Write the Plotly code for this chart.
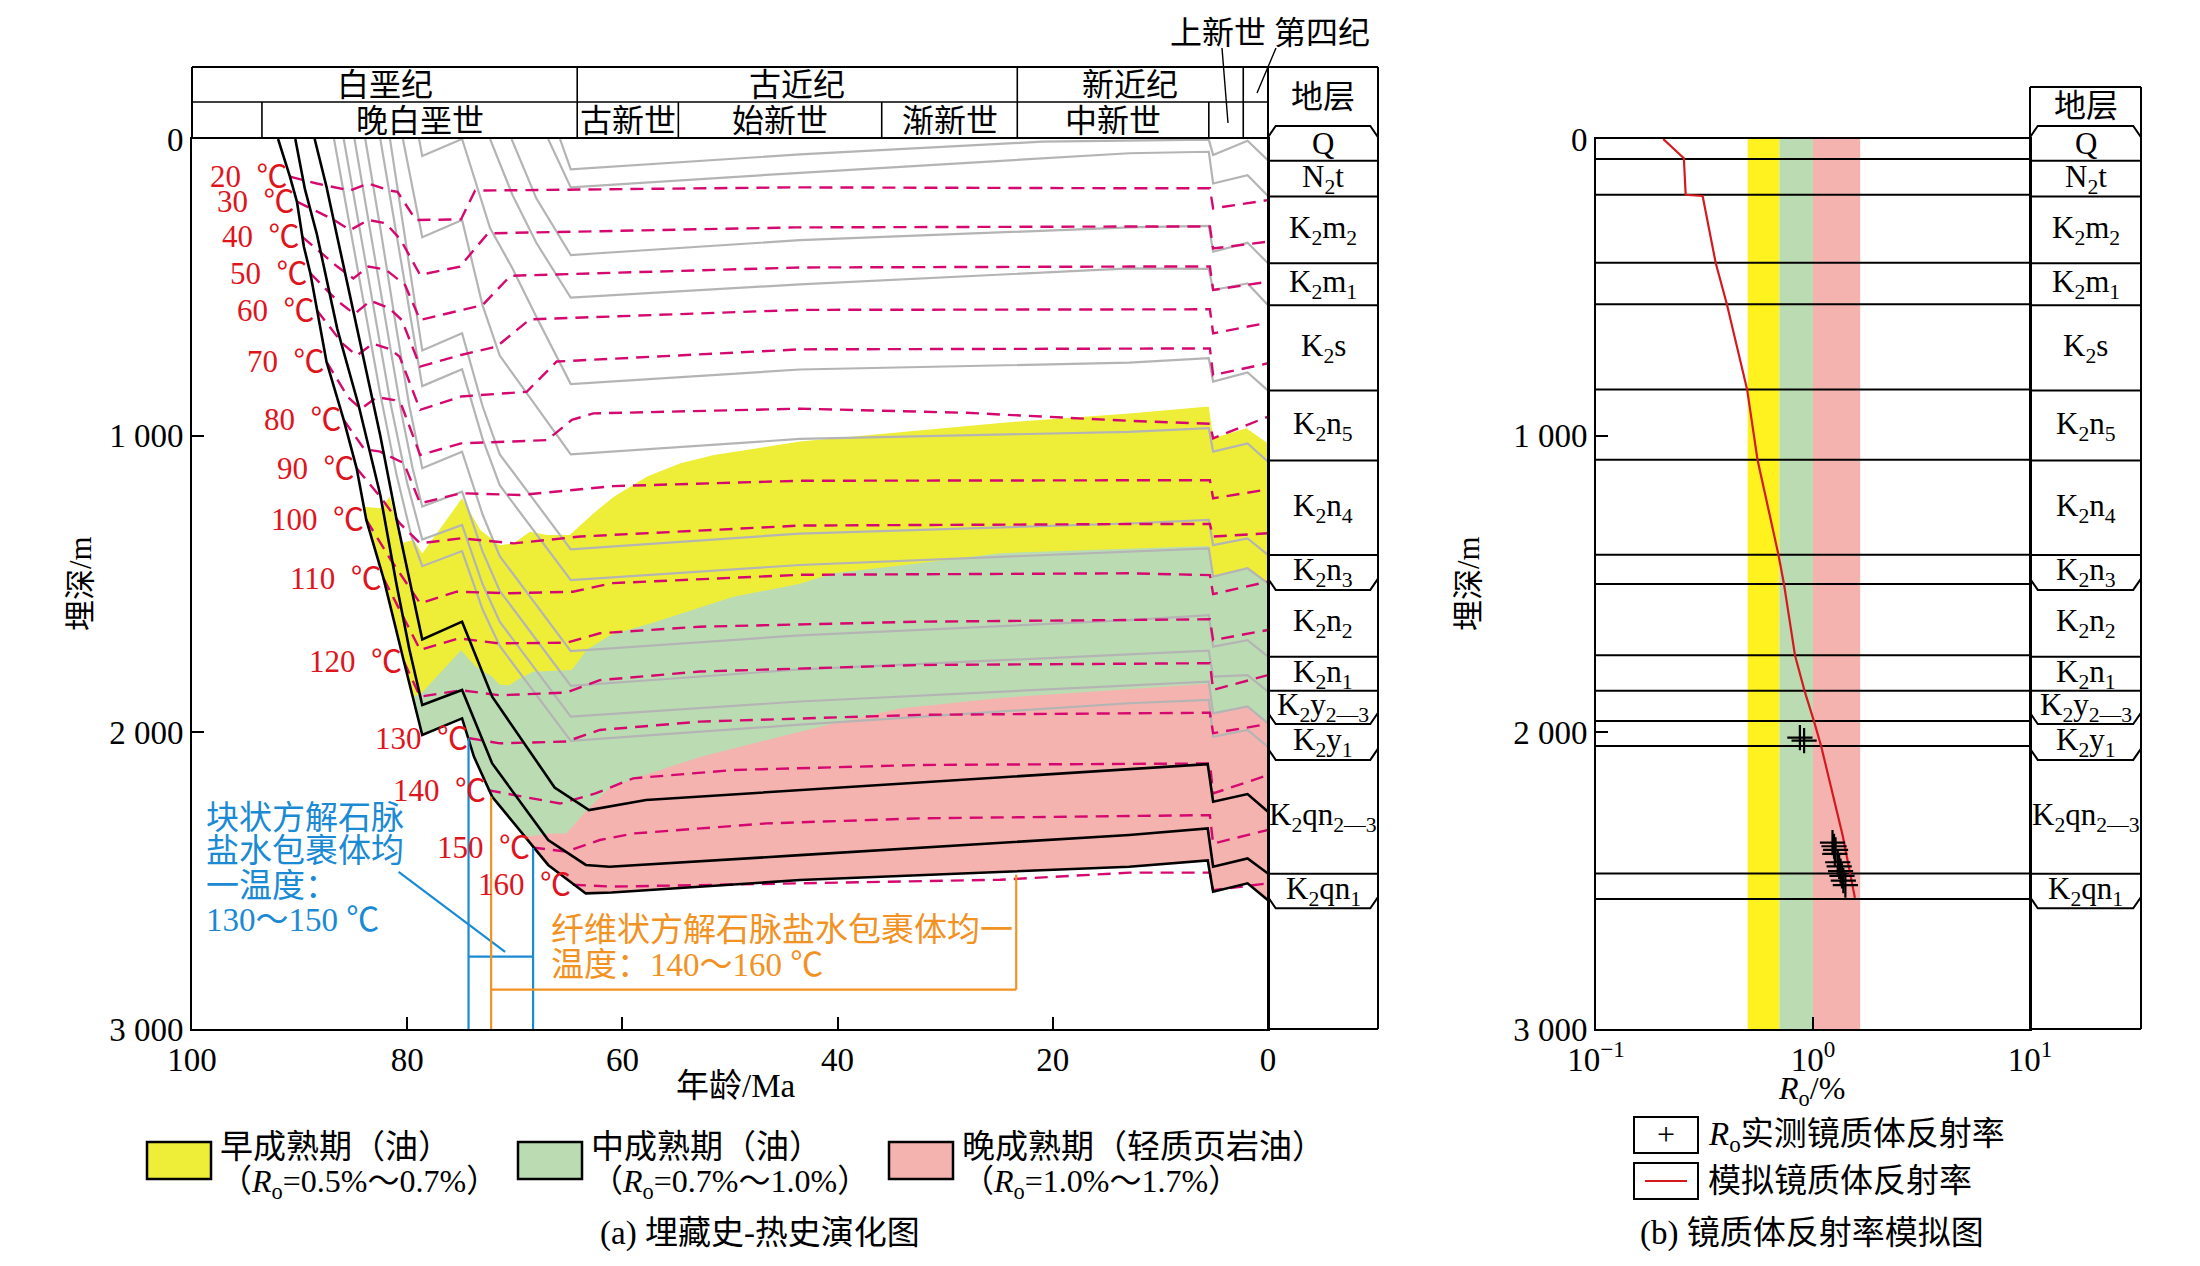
import plotly.graph_objects as go

# the page body keeps its default 8 px margin, so the figure is drawn 8 px in from the corner
W, H = 2200, 1266
PAGE_MARGIN = 8
FIG_W, FIG_H = W - PAGE_MARGIN, H - PAGE_MARGIN
FONT = "Liberation Serif, Noto Sans CJK SC, serif"

# frame of the two panels, in pixels of the 2200 x 1266 screenshot
A_LEFT, A_RIGHT, A_COL = 192, 1268, 1378
B_LEFT, B_RIGHT, B_COL = 1596, 2030, 2141
TOP, BOTTOM = 139, 1029
HEAD_TOP, HEAD_MID, B_HEAD_TOP = 67, 102, 87
DEPTH_MAX = 3000

GRAY = "#B4B4B4"
ISO_COLOR = "#D5086F"
LABEL_RED = "#E0141C"
BLUE = "#1A8AD4"
ORANGE = "#F29223"
FILL_A = ["#EEEE38", "#BBDCB2", "#F4B3AF"]
FILL_B = ["#FFF21E", "#BBDCB2", "#F4B3AF"]

# ---------------- geological time scale (Ma) ----------------
PERIOD_NAMES = ["白垩纪", "古近纪", "新近纪"]
PERIOD_START = [100, 64.2, 23.3]
PERIOD_END = [64.2, 23.3, 2.3]
EPOCH_NAMES = ["晚白垩世", "古新世", "始新世", "渐新世", "中新世"]
EPOCH_START = [93.5, 64.2, 54.8, 35.9, 23.3]
EPOCH_END = [64.2, 54.8, 35.9, 23.3, 5.5]
FULL_HEIGHT_BOUNDS = [64.2, 23.3, 2.3]
EPOCH_ONLY_BOUNDS = [93.5, 54.8, 35.9, 5.5]

# ---------------- burial history: formation tops (age Ma, depth m) ----------------
GRAY_AGES = [
    [65.8, 64.8, 43.5, 21.0, 5.5, 5.1, 1.9, 0],
    [66.9, 64.8, 43.5, 12.9, 5.5, 5.1, 1.9, 0],
    [70.3, 68.0, 64.8, 43.5, 12.9, 5.5, 5.1, 1.9, 0],
    [72.3, 70.2, 68.0, 64.8, 43.5, 12.9, 5.5, 5.1, 1.9, 0],
    [78.9, 78.6, 74.9, 72.3, 70.2, 68.0, 64.8, 43.5, 12.9, 5.5, 5.1, 1.9, 0],
    [80.4, 79.5, 78.6, 74.9, 73.0, 71.4, 68.0, 64.8, 43.5, 12.9, 5.5, 5.1, 1.9, 0],
    [81.6, 80.5, 79.5, 78.6, 74.9, 73.0, 71.4, 64.8, 43.5, 12.9, 5.5, 5.1, 1.9, 0],
    [82.5, 81.3, 80.0, 78.6, 74.9, 73.0, 71.4, 64.8, 43.5, 12.9, 5.5, 5.1, 1.9, 0],
    [83.9, 82.5, 81.0, 79.8, 78.6, 74.9, 73.0, 71.4, 64.8, 43.5, 12.9, 5.5, 5.1, 1.9, 0],
    [84.9, 83.5, 82.0, 80.5, 79.5, 78.6, 74.9, 73.0, 71.4, 64.8, 43.5, 12.9, 5.5, 5.1, 1.9, 0],
    [85.9, 84.5, 83.0, 81.5, 80.0, 78.6, 74.9, 73.0, 71.4, 64.8, 43.5, 12.9, 5.5, 5.1, 1.9, 0],
    [86.8, 85.5, 84.0, 82.5, 81.0, 79.6, 78.6, 74.9, 73.0, 71.4, 64.8, 43.5, 12.9, 5.5, 5.1, 1.9, 0],
]
GRAY_DEPTHS = [
    [0, 102, 52, 9, 2, 54, 6, 72],
    [0, 163, 114, 48, 43, 150, 122, 192],
    [0, 200, 391, 341, 298, 293, 380, 350, 419],
    [0, 190, 350, 535, 490, 436, 438, 509, 487, 560],
    [0, 57, 0, 300, 437, 599, 826, 777, 754, 739, 818, 787, 848],
    [0, 170, 331, 273, 560, 730, 900, 1063, 1011, 987, 975, 1054, 1026, 1088],
    [0, 270, 500, 713, 655, 900, 1063, 1383, 1330, 1296, 1284, 1369, 1346, 1402],
    [0, 260, 540, 833, 776, 1010, 1167, 1487, 1436, 1391, 1380, 1475, 1447, 1498],
    [0, 300, 640, 900, 1110, 1054, 1265, 1406, 1726, 1673, 1622, 1605, 1711, 1689, 1745],
    [0, 300, 620, 930, 1110, 1239, 1189, 1390, 1523, 1843, 1788, 1739, 1725, 1812, 1807, 1863],
    [0, 290, 600, 900, 1160, 1350, 1301, 1500, 1627, 1947, 1896, 1840, 1829, 1936, 1913, 1970],
    [0, 260, 560, 860, 1130, 1340, 1440, 1389, 1585, 1709, 2029, 1974, 1902, 1891, 2015, 1992, 2049],
]
# Qingshankou formation horizons (black); last one is the deepest
BLACK_AGES = [
    [88.6, 87.5, 86.5, 85.5, 84.2, 82.5, 81.0, 79.6, 78.6, 74.9, 72.1, 66.3, 63.1, 57.8, 32.4, 12.9, 5.6, 5.1, 1.9, 0],
    [90.4, 89.5, 88.4, 86.5, 84.5, 82.5, 81.0, 79.8, 78.6, 74.9, 72.1, 66.9, 63.4, 61.2, 43.5, 12.9, 5.6, 5.1, 1.9, 0],
    [92.0, 90.9, 90.25, 89.6, 89.0, 88.4, 87.5, 85.9, 84.7, 83.8, 82.2, 80.3, 78.6, 74.9, 73.8, 72.1, 69.0,
     66.9, 63.4, 61.0, 43.5, 12.9, 5.6, 5.1, 1.9, 0],
]
BLACK_DEPTHS = [
    [0, 161, 330, 500, 723, 1000, 1280, 1520, 1687, 1627, 1880, 2186, 2262, 2228, 2169, 2125, 2107, 2234, 2208, 2268],
    [0, 170, 320, 640, 900, 1200, 1500, 1720, 1908, 1857, 2105, 2363, 2447, 2453, 2414, 2346, 2324, 2453, 2425, 2476],
    [0, 127, 211, 363, 453, 577, 751, 947, 1110, 1284, 1481, 1762, 2009, 1953, 2082, 2217, 2354,
     2447, 2543, 2540, 2498, 2453, 2432, 2537, 2509, 2566],
]

# ---------------- isotherms ----------------
ISO_TEMPS = [20, 30, 40, 50, 60, 70, 80, 90, 100, 110, 120, 130, 140, 150, 160]
ISO_AGES = [
    [90.9, 88.4, 85.3, 83.6, 81.6, 80.9, 79.2, 75.0, 73.7, 44.0, 12.9, 5.4, 5.1, 0],
    [90.25, 86.8, 85.3, 83.6, 82.0, 80.6, 78.8, 75.1, 72.5, 44.0, 12.9, 5.4, 5.1, 0],
    [89.75, 86.5, 85.0, 83.6, 82.0, 80.2, 78.8, 75.0, 73.0, 70.4, 43.5, 12.9, 5.4, 5.1, 0],
    [89.0, 86.5, 84.9, 83.4, 81.7, 80.5, 78.8, 75.0, 71.7, 68.6, 43.5, 12.9, 5.4, 5.1, 0],
    [88.4, 86.0, 84.7, 83.2, 81.5, 80.7, 78.8, 75.0, 68.9, 66.1, 43.5, 12.9, 5.4, 5.1, 0],
    [87.5, 85.5, 84.3, 82.8, 81.2, 80.5, 78.8, 75.0, 67.0, 64.7, 62.7, 43.5, 28.0, 12.9, 5.4, 5.1, 0],
    [85.9, 84.0, 82.5, 80.3, 78.8, 75.0, 69.5, 60.8, 43.5, 12.9, 5.4, 5.1, 0],
    [84.7, 82.5, 80.7, 78.8, 75.0, 70.1, 63.9, 43.5, 12.9, 5.4, 5.1, 0],
    [83.8, 81.5, 78.8, 75.4, 70.5, 64.6, 60.9, 43.5, 12.9, 5.4, 5.1, 0],
    [82.2, 80.5, 78.8, 75.2, 71.5, 65.2, 62.1, 52.8, 32.4, 5.4, 5.1, 0],
    [80.3, 78.8, 75.0, 71.4, 65.2, 62.1, 52.8, 32.4, 5.4, 5.1, 0],
    [74.2, 71.4, 65.2, 62.1, 52.8, 32.4, 5.4, 5.1, 0],
    [72.5, 65.8, 62.5, 59.0, 49.7, 32.4, 5.4, 5.1, 0],
    [68.4, 65.2, 62.1, 59.0, 46.6, 32.4, 5.4, 5.1, 0],
    [64.6, 60.9, 24.9, 12.9, 5.4, 5.1, 0],
]
ISO_DEPTHS = [
    [127, 150, 174, 150, 174, 178, 273, 271, 174, 163, 166, 166, 234, 206],
    [211, 273, 307, 273, 284, 340, 458, 430, 318, 298, 295, 295, 369, 346],
    [330, 430, 470, 430, 440, 492, 610, 576, 560, 461, 433, 430, 430, 509, 481],
    [453, 545, 590, 545, 570, 610, 767, 728, 700, 608, 576, 574, 574, 655, 619],
    [577, 690, 730, 690, 710, 734, 913, 868, 852, 750, 709, 706, 706, 796, 756],
    [751, 870, 910, 870, 880, 900, 1065, 1026, 1015, 947, 925, 909, 923, 950, 960, 1009, 936],
    [947, 1045, 1054, 1093, 1228, 1194, 1200, 1170, 1152, 1150, 1150, 1211, 1181],
    [1110, 1206, 1295, 1363, 1346, 1363, 1340, 1303, 1298, 1298, 1340, 1329],
    [1284, 1420, 1565, 1526, 1531, 1526, 1497, 1469, 1464, 1470, 1534, 1492],
    [1481, 1600, 1722, 1683, 1700, 1698, 1666, 1644, 1627, 1619, 1689, 1655],
    [1762, 1880, 1858, 1875, 1866, 1824, 1795, 1773, 1767, 1857, 1807],
    [2020, 2037, 2031, 1992, 1964, 1941, 1934, 2003, 1972],
    [2195, 2240, 2206, 2155, 2127, 2110, 2105, 2206, 2144],
    [2388, 2402, 2363, 2341, 2307, 2290, 2279, 2375, 2329],
    [2514, 2520, 2497, 2473, 2473, 2532, 2509],
]

# ---------------- maturity windows: upper boundaries (lower one is the deepest horizon) ----------------
EARLY_TOP_AGE = [84.0, 82.5, 81.6, 80.6, 79.4, 78.6, 74.9, 73.2, 71.4, 70.1, 68.6, 67.0, 64.9, 62.7, 60.8,
                 57.7, 54.6, 51.5, 43.5, 24.9, 12.9, 5.5, 5.1, 2.0, 0]
EARLY_TOP_DEPTH = [1240, 1245, 1206, 1363, 1352, 1397, 1211, 1318, 1369, 1363, 1324, 1335, 1335, 1262, 1206,
                   1138, 1093, 1065, 1020, 957, 925, 902, 1009, 975, 1026]
MID_TOP_AGE = [79.5, 78.7, 75.0, 73.6, 72.1, 71.4, 70.5, 69.6, 68.3, 64.7, 63.3, 61.1, 57.4, 49.7, 43.5, 40.4,
               34.2, 24.9, 5.5, 5.1, 1.9, 0]
MID_TOP_DEPTH = [1880, 1869, 1723, 1779, 1813, 1840, 1841, 1819, 1796, 1790, 1722, 1672, 1633, 1543, 1499, 1464,
                 1438, 1396, 1372, 1475, 1447, 1498]
LATE_TOP_AGE = [69.0, 66.7, 65.2, 63.3, 61.1, 58.4, 52.8, 46.6, 40.4, 34.2, 24.9, 5.5, 5.1, 1.9, 0]
LATE_TOP_DEPTH = [2352, 2341, 2341, 2262, 2184, 2150, 2083, 2027, 1970, 1920, 1884, 1836, 1936, 1913, 1970]
ZONE_NAMES = ["早成熟期（油）", "中成熟期（油）", "晚成熟期（轻质页岩油）"]
ZONE_RO = ["（<i>R</i><sub>o</sub>=0.5%～0.7%）", "（<i>R</i><sub>o</sub>=0.7%～1.0%）",
           "（<i>R</i><sub>o</sub>=1.0%～1.7%）"]

# ---------------- fluid inclusion temperature markers ----------------
BLOCKY_AGES = [74.3, 68.3]
BLOCKY_TOPS = [2020, 2390]
BLOCKY_BRACKET = 2756
BLOCKY_TEXT = ["块状方解石脉", "盐水包裹体均", "一温度：", "130～150 ℃"]
BLOCKY_TEXT_DEPTH = [2288, 2400, 2518, 2633]
FIBROUS_AGES = [72.2, 23.4]
FIBROUS_TOPS = [2217, 2480]
FIBROUS_BRACKET = 2867
FIBROUS_TEXT = ["纤维状方解石脉盐水包裹体均一", "温度：140～160 ℃"]
FIBROUS_TEXT_DEPTH = [2665, 2783]

# ---------------- stratigraphic column ----------------
STRATA_LABELS = ["Q", "N<sub>2</sub>t", "K<sub>2</sub>m<sub>2</sub>", "K<sub>2</sub>m<sub>1</sub>",
                 "K<sub>2</sub>s", "K<sub>2</sub>n<sub>5</sub>", "K<sub>2</sub>n<sub>4</sub>",
                 "K<sub>2</sub>n<sub>3</sub>", "K<sub>2</sub>n<sub>2</sub>", "K<sub>2</sub>n<sub>1</sub>",
                 "K<sub>2</sub>y<sub>2—3</sub>", "K<sub>2</sub>y<sub>1</sub>",
                 "K<sub>2</sub>qn<sub>2—3</sub>", "K<sub>2</sub>qn<sub>1</sub>"]
STRATA_BOUNDS = [-44, 73, 194, 419, 560, 848, 1084, 1402, 1520, 1745, 1860, 1972, 2093, 2477, 2593]
BOUND_STYLE = ["up", "", "", "", "", "", "", "", "down", "", "", "down", "down", "", "down"]

# ---------------- vitrinite reflectance (panel b) ----------------
FORMATION_LINES = [67, 188, 417, 557, 844, 1081, 1401, 1500, 1740, 1860, 1962, 2046, 2476, 2562]
RO_BAND_LOW = [0.5, 0.7, 1.0]
RO_BAND_HIGH = [0.7, 1.0, 1.65]
RO_MODEL_DEPTH = [0, 65, 188, 192, 417, 557, 844, 1081, 1399, 1500, 1740, 1861, 1962, 2046, 2348, 2558]
RO_MODEL_VALUE = [0.204, 0.254, 0.259, 0.31, 0.356, 0.401, 0.497, 0.555, 0.692, 0.735, 0.826, 0.915, 1.01,
                  1.09, 1.37, 1.56]
RO_MEAS_DEPTH = [2018, 2028, 2372, 2384, 2396, 2410, 2438, 2452, 2468, 2484, 2500, 2515]
RO_MEAS_VALUE = [0.87, 0.91, 1.23, 1.25, 1.27, 1.26, 1.30, 1.32, 1.34, 1.36, 1.38, 1.41]


def fx(px):
    return (px - PAGE_MARGIN) / FIG_W


def fy(py):
    return 1 - (py - PAGE_MARGIN) / FIG_H


shapes = []
annotations = []


def line_px(x0, y0, x1, y1, width=2, color="black"):
    shapes.append(dict(type="line", xref="paper", yref="paper", x0=fx(x0), y0=fy(y0), x1=fx(x1), y1=fy(y1),
                       line=dict(color=color, width=width)))


def text(t, x, y, size=30, color="black", xanchor="center", yanchor="middle", xref="paper", yref="paper",
         angle=0):
    annotations.append(dict(text=t, x=x, y=y, xref=xref, yref=yref, showarrow=False, textangle=angle,
                            font=dict(family=FONT, size=size, color=color), xanchor=xanchor, yanchor=yanchor))


fig = go.Figure()

# maturity zones, each filled from its upper boundary down to the deepest horizon
deep_age, deep_depth = BLACK_AGES[-1], BLACK_DEPTHS[-1]
for top_age, top_depth, color in [(EARLY_TOP_AGE, EARLY_TOP_DEPTH, FILL_A[0]),
                                  (MID_TOP_AGE, MID_TOP_DEPTH, FILL_A[1]),
                                  (LATE_TOP_AGE, LATE_TOP_DEPTH, FILL_A[2])]:
    xs, ys = list(top_age), list(top_depth)
    for a, d in sorted(zip(deep_age, deep_depth)):
        if a < top_age[0]:
            xs.append(a)
            ys.append(d)
    fig.add_trace(go.Scatter(x=xs, y=ys, mode="lines", fill="toself", fillcolor=color,
                             line=dict(width=0), hoverinfo="skip"))

for ages, depths in zip(GRAY_AGES, GRAY_DEPTHS):
    fig.add_trace(go.Scatter(x=ages, y=depths, mode="lines", line=dict(color=GRAY, width=2.2)))

for t, ages, depths in zip(ISO_TEMPS, ISO_AGES, ISO_DEPTHS):
    fig.add_trace(go.Scatter(x=ages, y=depths, mode="lines",
                             line=dict(color=ISO_COLOR, width=2.4, dash="13px,8px")))
    text(f"{t}\u00a0\u00a0℃", ages[0], depths[0], size=31, color=LABEL_RED, xanchor="right", xref="x", yref="y")

for ages, depths in zip(BLACK_AGES, BLACK_DEPTHS):
    fig.add_trace(go.Scatter(x=ages, y=depths, mode="lines", line=dict(color="black", width=2.6)))

# inclusion temperature brackets
fig.add_trace(go.Scatter(
    x=[BLOCKY_AGES[0], BLOCKY_AGES[0], None, BLOCKY_AGES[1], BLOCKY_AGES[1], None, BLOCKY_AGES[0], BLOCKY_AGES[1]],
    y=[BLOCKY_TOPS[0], DEPTH_MAX, None, BLOCKY_TOPS[1], DEPTH_MAX, None, BLOCKY_BRACKET, BLOCKY_BRACKET],
    mode="lines", line=dict(color=BLUE, width=2.2)))
fig.add_trace(go.Scatter(x=[80.8, 70.9], y=[2470, 2740], mode="lines", line=dict(color=BLUE, width=2.2)))
fig.add_trace(go.Scatter(
    x=[FIBROUS_AGES[0], FIBROUS_AGES[0], None, FIBROUS_AGES[1], FIBROUS_AGES[1], None, FIBROUS_AGES[0],
       FIBROUS_AGES[1]],
    y=[FIBROUS_TOPS[0], DEPTH_MAX, None, FIBROUS_TOPS[1], FIBROUS_BRACKET, None, FIBROUS_BRACKET, FIBROUS_BRACKET],
    mode="lines", line=dict(color=ORANGE, width=2.2)))
for t, d in zip(BLOCKY_TEXT, BLOCKY_TEXT_DEPTH):
    text(t, 98.9, d, size=33, color=BLUE, xanchor="left", xref="x", yref="y")
for t, d in zip(FIBROUS_TEXT, FIBROUS_TEXT_DEPTH):
    text(t, 66.8, d, size=33, color=ORANGE, xanchor="left", xref="x", yref="y")

# ---------------- panel b ----------------
for lo, hi, color in zip(RO_BAND_LOW, RO_BAND_HIGH, FILL_B):
    fig.add_trace(go.Scatter(x=[lo, hi, hi, lo, lo], y=[0, 0, DEPTH_MAX, DEPTH_MAX, 0], mode="lines",
                             fill="toself", fillcolor=color, line=dict(width=0), xaxis="x2", yaxis="y2"))
hx, hy = [], []
for d in FORMATION_LINES:
    hx += [0.1, 10, None]
    hy += [d, d, None]
fig.add_trace(go.Scatter(x=hx, y=hy, mode="lines", line=dict(color="black", width=2), xaxis="x2", yaxis="y2"))
fig.add_trace(go.Scatter(x=RO_MODEL_VALUE, y=RO_MODEL_DEPTH, mode="lines",
                         line=dict(color="#D41A1F", width=2.2), xaxis="x2", yaxis="y2"))
fig.add_trace(go.Scatter(x=RO_MEAS_VALUE, y=RO_MEAS_DEPTH, mode="markers", xaxis="x2", yaxis="y2",
                         marker=dict(symbol="cross-thin", size=18, line=dict(color="black", width=2.2))))

# ---------------- stratigraphic columns ----------------
BEV = 38
for xa, ya in [("x3", "y3"), ("x4", "y4")]:
    cx, cy = [], []
    for d, style in zip(STRATA_BOUNDS, BOUND_STYLE):
        if style == "up":
            cx += [0, 0.07, 0.93, 1, None]
            cy += [d + BEV, d, d, d + BEV, None]
        elif style == "down":
            cx += [0, 0.07, 0.93, 1, None]
            cy += [d - BEV, d, d, d - BEV, None]
        else:
            cx += [0, 1, None]
            cy += [d, d, None]
    fig.add_trace(go.Scatter(x=cx, y=cy, mode="lines", line=dict(color="black", width=2),
                             xaxis=xa, yaxis=ya))
    for i, lab in enumerate(STRATA_LABELS):
        mid = (STRATA_BOUNDS[i] + STRATA_BOUNDS[i + 1]) / 2
        text(lab, 0.5, mid, size=31, xref=xa, yref=ya)

# ---------------- header time scale ----------------
line_px(A_LEFT, HEAD_TOP, A_COL, HEAD_TOP, 2)
line_px(A_LEFT, HEAD_MID, A_RIGHT, HEAD_MID, 1.6)
line_px(A_LEFT, HEAD_TOP, A_LEFT, TOP, 2)
for a in FULL_HEIGHT_BOUNDS:
    shapes.append(dict(type="line", xref="x", yref="paper", x0=a, x1=a, y0=fy(HEAD_TOP), y1=fy(TOP),
                       line=dict(color="black", width=1.6)))
for a in EPOCH_ONLY_BOUNDS:
    shapes.append(dict(type="line", xref="x", yref="paper", x0=a, x1=a, y0=fy(HEAD_MID), y1=fy(TOP),
                       line=dict(color="black", width=1.6)))
for name, s, e in zip(PERIOD_NAMES, PERIOD_START, PERIOD_END):
    text(name, (s + e) / 2, fy(85), size=32, xref="x")
for name, s, e in zip(EPOCH_NAMES, EPOCH_START, EPOCH_END):
    text(name, (s + e) / 2, fy(121), size=32, xref="x")
text("上新世 第四纪", fx(1270), fy(33), size=32)
line_px(1222, 48, 1228, 123, 1.4)
line_px(1276, 48, 1257, 93, 1.4)

# column frames
text("地层", fx((A_RIGHT + A_COL) / 2), fy(97), size=32)
line_px(A_RIGHT, HEAD_TOP, A_RIGHT, BOTTOM, 2)
line_px(A_COL, HEAD_TOP, A_COL, BOTTOM, 2)
line_px(A_RIGHT, BOTTOM, A_COL, BOTTOM, 2)
text("地层", fx((B_RIGHT + B_COL) / 2), fy(106), size=32)
line_px(B_RIGHT, B_HEAD_TOP, B_COL, B_HEAD_TOP, 2)
line_px(B_RIGHT, B_HEAD_TOP, B_RIGHT, BOTTOM, 2)
line_px(B_COL, B_HEAD_TOP, B_COL, BOTTOM, 2)
line_px(B_RIGHT, BOTTOM, B_COL, BOTTOM, 2)

# axis titles and captions
text("年龄/Ma", fx(736), fy(1086), size=33)
text("埋深/m", fx(80), fy(584), size=31, angle=-90)
text("埋深/m", fx(1468), fy(584), size=31, angle=-90)
text("<i>R</i><sub>o</sub>/%", fx(1811), fy(1090), size=32)
text("(a) 埋藏史-热史演化图", fx(760), fy(1233), size=33)
text("(b) 镜质体反射率模拟图", fx(1638), fy(1233), size=33, xanchor="left")

# legend of panel a
for x0, name, ro, color in zip([147, 518, 889], ZONE_NAMES, ZONE_RO, FILL_A):
    shapes.append(dict(type="rect", xref="paper", yref="paper", x0=fx(x0), x1=fx(x0 + 64), y0=fy(1142),
                       y1=fy(1179), fillcolor=color, line=dict(color="black", width=2.5)))
    text(name, fx(x0 + 71), fy(1147), size=33, xanchor="left")
    text(ro, fx(x0 + 71), fy(1183), size=32, xanchor="left")

# legend of panel b
for y0 in [1117, 1163]:
    shapes.append(dict(type="rect", xref="paper", yref="paper", x0=fx(1634), x1=fx(1698), y0=fy(y0),
                       y1=fy(y0 + 36), line=dict(color="black", width=2)))
text("+", fx(1666), fy(1134), size=32)
line_px(1645, 1181, 1687, 1181, 2.2, "#D41A1F")
text("<i>R</i><sub>o</sub>实测镜质体反射率", fx(1706), fy(1136), size=33, xanchor="left")
text("模拟镜质体反射率", fx(1706), fy(1181), size=33, xanchor="left")

axis_common = dict(showgrid=False, zeroline=False, showline=True, linecolor="black", linewidth=2,
                   mirror=True, ticks="inside", ticklen=12, tickwidth=2, tickcolor="black", automargin=False,
                   tickfont=dict(family=FONT, size=33, color="black"))
hidden = dict(range=[0, 1], visible=False, automargin=False)
y_domain = [fy(BOTTOM), fy(TOP)]
col_range = [DEPTH_MAX, DEPTH_MAX - (BOTTOM - PAGE_MARGIN) * DEPTH_MAX / (BOTTOM - TOP)]

fig.update_layout(
    width=FIG_W, height=FIG_H, margin=dict(l=0, r=0, t=0, b=0, pad=0, autoexpand=False),
    paper_bgcolor="white", plot_bgcolor="white", showlegend=False,
    font=dict(family=FONT, color="black"),
    xaxis=dict(domain=[fx(A_LEFT), fx(A_RIGHT)], range=[100, 0], anchor="y",
               tickvals=[100, 80, 60, 40, 20, 0], **axis_common),
    yaxis=dict(domain=y_domain, range=[DEPTH_MAX, 0], anchor="x", tickvals=[0, 1000, 2000, 3000],
               ticktext=["0", "1 000", "2 000", "3 000"], **axis_common),
    xaxis2=dict(domain=[fx(B_LEFT), fx(B_RIGHT)], type="log", range=[-1, 1], anchor="y2",
                tickvals=[0.1, 1, 10], ticktext=["10<sup>−1</sup>", "10<sup>0</sup>", "10<sup>1</sup>"],
                **axis_common),
    yaxis2=dict(domain=y_domain, range=[DEPTH_MAX, 0], anchor="x2", tickvals=[0, 1000, 2000, 3000],
                ticktext=["0", "1 000", "2 000", "3 000"], **axis_common),
    xaxis3=dict(domain=[fx(A_RIGHT), fx(A_COL)], anchor="y3", **hidden),
    yaxis3=dict(domain=[fy(BOTTOM), 1], anchor="x3", visible=False, automargin=False, range=col_range),
    xaxis4=dict(domain=[fx(B_RIGHT), fx(B_COL)], anchor="y4", **hidden),
    yaxis4=dict(domain=[fy(BOTTOM), 1], anchor="x4", visible=False, automargin=False, range=col_range),
    shapes=shapes, annotations=annotations,
)

fig.write_html("out.html")
